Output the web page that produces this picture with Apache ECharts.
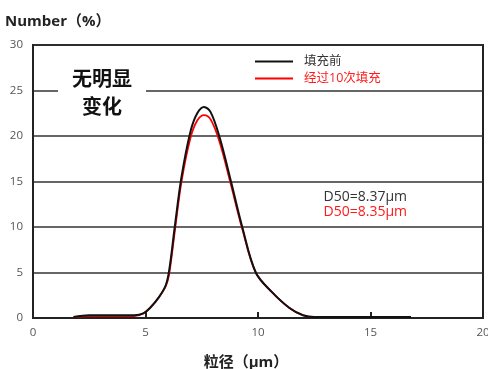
<!DOCTYPE html>
<html><head><meta charset="utf-8">
<script src="https://cdn.jsdelivr.net/npm/echarts@6/dist/echarts.min.js"></script>
<style>html,body{margin:0;padding:0;background:#fff}#c{width:488px;height:369px}</style>
</head><body><div id="c"></div>
<script>
const seriesNames = ['填充前', '经过10次填充'];
const xBefore = [1.8,2.5,3.5,4.5,4.9,5.2,5.6,5.9,6.05,6.3,6.6,7.0,7.3,7.6,7.9,8.3,8.8,9.3,9.9,10.6,11.4,12.0,12.5,14,16.8];
const yBefore = [0.1,0.3,0.3,0.3,0.5,1.1,2.3,3.6,5.2,10,15.5,20.5,22.5,23.2,22.6,19.8,15,10,5,2.9,1.1,0.3,0.1,0.1,0.1];
const xAfter = [1.8,2.5,3.5,4.5,4.9,5.2,5.6,5.9,6.05,6.3,6.6,7.0,7.3,7.6,7.9,8.3,8.8,9.3,9.9,10.6,11.4,12.0,12.5,14,16.8];
const yAfter = [0.1,0.2,0.2,0.2,0.5,1.1,2.3,3.5,4.8,9.5,15,19.8,21.7,22.3,21.8,19.3,14.6,9.8,5,2.9,1.1,0.3,0.1,0.1,0.1];
const xTicks = [0,5,10,15,20];
const yTicks = [0,5,10,15,20,25,30];
const d50Labels = ['D50=8.37μm', 'D50=8.35μm'];

const zip = (xs, ys) => xs.map((x, i) => [x, ys[i]]);
const FONT = '"Open Sans","Noto Sans CJK SC",sans-serif';
const chart = echarts.init(document.getElementById('c'));
chart.setOption({
  animation: false,
  grid: {left: 33, right: 5, top: 45, bottom: 51, show: true, borderColor: '#222', borderWidth: 2, backgroundColor: 'transparent', containLabel: false, outerBoundsMode: 'none'},
  xAxis: {
    type: 'value', min: 0, max: 20, interval: 5,
    name: '粒径（μm）', nameLocation: 'middle', nameGap: 37,
    nameTextStyle: {fontFamily: FONT, fontSize: 15, fontWeight: 'bold', color: '#222', padding: [0, 24, 0, 0]},
    axisLine: {lineStyle: {color: '#222', width: 2}},
    axisTick: {show: true, inside: true, length: 6, lineStyle: {color: '#222', width: 2}},
    axisLabel: {fontFamily: FONT, fontSize: 11.5, color: '#555', margin: 9, showMaxLabel: true,
      formatter: v => xTicks.includes(v) ? String(v) : ''},
    splitLine: {show: false}
  },
  yAxis: {
    type: 'value', min: 0, max: 30, interval: 5,
    axisLine: {show: true, lineStyle: {color: '#222', width: 2}},
    axisTick: {show: false},
    axisLabel: {fontFamily: FONT, fontSize: 11.5, color: '#555', margin: 10,
      formatter: v => yTicks.includes(v) ? String(v) : ''},
    splitLine: {show: true, lineStyle: {color: '#333', width: 1.5}}
  },
  legend: {
    show: true, orient: 'vertical', left: 255, top: 54, itemGap: 2, padding: 0,
    itemWidth: 38, itemHeight: 2, icon: 'rect',
    data: [
      {name: seriesNames[0], textStyle: {color: '#333'}},
      {name: seriesNames[1], textStyle: {color: '#ff1a1a'}}
    ],
    textStyle: {fontFamily: FONT, fontSize: 12.5, lineHeight: 15, padding: [0, 0, 0, 6]}
  },
  series: [
    {name: seriesNames[0], type: 'line', smooth: 0.35, symbol: 'none', data: zip(xBefore, yBefore),
      lineStyle: {color: '#111', width: 2}, itemStyle: {color: '#111'}, z: 3},
    {name: seriesNames[1], type: 'line', smooth: 0.35, symbol: 'none', data: zip(xAfter, yAfter),
      lineStyle: {color: '#ff0000', width: 1.8}, itemStyle: {color: '#ff0000'}, z: 2}
  ],
  graphic: [
    {type: 'text', style: {text: 'Number（%）', x: 5, y: 22, textVerticalAlign: 'middle', font: 'bold 15px ' + FONT, fill: '#222'}},
    {type: 'rect', z: 50, shape: {x: 58, y: 66, width: 88, height: 52}, style: {fill: '#fff'}},
    {type: 'text', z: 51, style: {text: '无明显', x: 102, y: 78, textAlign: 'center', textVerticalAlign: 'middle', font: 'bold 20px "Noto Sans CJK SC",sans-serif', fill: '#111'}},
    {type: 'text', z: 51, style: {text: '变化', x: 102, y: 106, textAlign: 'center', textVerticalAlign: 'middle', font: 'bold 20px "Noto Sans CJK SC",sans-serif', fill: '#111'}},
    {type: 'text', z: 51, style: {text: d50Labels[0], x: 407, y: 197, textAlign: 'right', textVerticalAlign: 'middle', font: '14px ' + FONT, fill: '#333'}},
    {type: 'text', z: 51, style: {text: d50Labels[1], x: 407, y: 212.5, textAlign: 'right', textVerticalAlign: 'middle', font: '14px ' + FONT, fill: '#ff1a1a'}}
  ]
});
</script></body></html>
